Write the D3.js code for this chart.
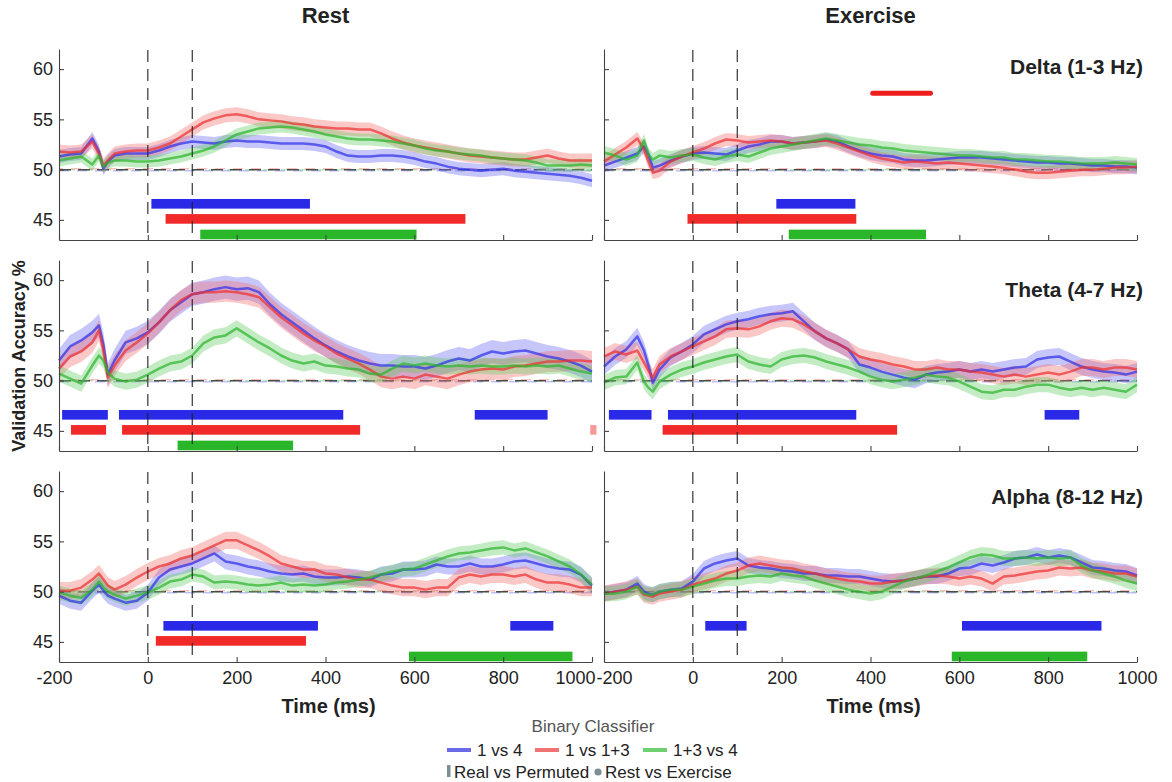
<!DOCTYPE html>
<html>
<head>
<meta charset="utf-8">
<script src="https://cdn.jsdelivr.net/npm/d3@7"></script>
<style>
body{margin:0;background:#fff}
text{font-family:"Liberation Sans",Arial,Helvetica,sans-serif}
</style>
</head>
<body>
<div id="graph"></div>
<script>
"use strict"

// time axis of every curve (ms)
var times=[-200,-175,-150,-125,-110,-100,-90,-75,-50,-25,0,25,50,75,100,125,150,175,200,225,250,275,300,325,350,375,400,425,450,475,500,525,550,575,600,625,650,675,700,725,750,775,800,825,850,875,900,925,950,975,1000]

var conditions=['Rest','Exercise']
var bands=['Delta (1-3 Hz)','Theta (4-7 Hz)','Alpha (8-12 Hz)']
var classifiers=['1 vs 4','1 vs 1+3','1+3 vs 4']
var markerLegend=['Real vs Permuted','Rest vs Exercise']
var yTicks=[45,50,55,60]
var xTicks=[-200,0,200,400,600,800,1000]
var stimMarks=[0,100]
var chance=50

// validation accuracy %, one array per classifier and panel
var deltaRest1v4=[51.3,51.5,51.6,53.1,51.8,50.1,50.8,51.4,51.6,51.6,51.6,51.9,52.3,52.6,52.8,52.7,52.6,52.8,52.9,52.8,52.8,52.7,52.6,52.6,52.6,52.5,52.3,51.8,51.4,51.3,51.3,51.4,51.4,51.3,51.1,50.8,50.6,50.3,50.1,50.0,49.9,50.0,50.1,49.9,49.8,49.7,49.6,49.5,49.4,49.2,48.9]
var deltaRest1v13=[51.8,51.7,51.8,52.8,51.6,50.4,50.9,51.6,51.8,51.9,51.9,52.2,52.6,53.3,54.0,54.7,55.1,55.4,55.5,55.3,55.0,54.9,54.8,54.6,54.5,54.3,54.2,54.1,54.1,54.0,54.0,53.6,53.1,52.7,52.4,52.2,52.0,51.8,51.6,51.4,51.3,51.2,51.1,51.0,51.0,51.2,51.4,51.1,50.9,50.9,50.9]
var deltaRest13v4=[50.9,51.1,51.3,50.5,51.4,50.3,50.7,50.9,50.9,50.8,50.8,50.9,51.1,51.3,51.6,51.9,52.3,52.9,53.5,53.8,54.1,54.2,54.3,54.2,54.0,53.8,53.5,53.3,53.1,53.0,53.0,52.9,52.8,52.6,52.4,52.1,51.9,51.8,51.6,51.5,51.4,51.2,51.1,51.0,50.9,50.7,50.4,50.4,50.4,50.5,50.4]
var deltaEx1v4=[50.4,50.8,51.2,51.6,52.3,51.5,50.2,50.4,50.9,51.3,51.6,51.7,51.6,51.5,51.9,52.3,52.5,52.8,52.8,52.6,52.7,52.8,53.0,52.8,52.3,51.9,51.6,51.4,51.3,51.0,50.9,50.9,51.0,51.1,51.2,51.2,51.2,51.1,51.0,50.9,50.8,50.7,50.7,50.6,50.6,50.5,50.4,50.4,50.3,50.3,50.2]
var deltaEx1v13=[50.8,51.5,52.2,53.1,52.0,50.8,49.7,49.9,50.8,51.3,51.7,52.1,52.6,53.0,52.9,52.7,52.8,52.9,52.8,52.6,52.7,52.8,52.9,52.6,52.2,51.8,51.4,51.1,50.9,50.7,50.8,50.7,50.6,50.7,50.6,50.5,50.4,50.3,50.2,50.0,49.8,49.7,49.7,49.8,49.9,50.0,50.0,50.1,50.2,50.2,50.3]
var deltaEx13v4=[51.7,51.4,51.0,51.4,52.9,51.5,51.0,51.4,51.2,51.4,51.5,51.2,51.0,51.3,51.5,51.3,51.7,52.1,52.3,52.5,52.7,52.9,53.1,52.9,52.7,52.5,52.4,52.2,52.1,51.9,51.8,51.7,51.6,51.5,51.4,51.4,51.3,51.2,51.2,51.0,51.0,50.9,50.8,50.8,50.7,50.6,50.6,50.6,50.7,50.6,50.5]
var thetaRest1v4=[52.0,53.4,54.0,54.8,55.5,53.6,50.6,52.0,53.8,54.2,54.8,55.8,57.0,57.8,58.6,58.8,59.1,59.3,59.1,59.2,58.8,57.6,56.6,55.8,55.0,54.2,53.5,52.9,52.4,52.0,51.7,51.5,51.5,51.4,51.4,51.2,51.5,51.9,52.2,52.0,52.5,52.9,52.7,52.9,53.0,52.7,52.4,52.2,51.9,51.5,50.9]
var thetaRest1v13=[51.2,52.4,52.9,53.8,55.0,53.0,50.3,51.5,53.0,53.8,54.7,55.8,57.0,58.0,58.6,58.8,58.8,58.9,58.8,58.6,58.3,57.3,56.3,55.5,54.7,54.0,53.4,52.7,52.2,51.7,51.1,50.4,50.2,50.4,50.2,50.6,50.4,50.2,50.6,50.9,51.1,51.2,51.1,51.4,51.5,51.7,51.9,51.9,52.0,52.0,51.9]
var thetaRest13v4=[50.7,50.2,49.7,51.5,52.5,52.0,50.8,50.2,49.9,50.1,50.6,51.2,51.7,51.9,52.5,53.7,54.3,54.5,55.2,54.5,53.8,53.2,52.5,52.0,51.7,51.9,51.5,51.4,51.2,51.1,50.7,50.6,51.2,51.7,51.5,51.7,51.5,51.4,51.5,51.4,51.5,51.4,51.4,51.5,51.4,51.5,51.4,51.5,51.2,50.9,50.7]
var thetaEx1v4=[51.4,52.4,53.1,54.4,53.0,51.5,49.8,51.1,52.3,52.9,53.6,54.6,55.1,55.6,55.9,56.1,56.4,56.6,56.7,56.9,55.9,54.9,54.2,53.7,53.1,51.6,51.3,50.9,50.6,50.3,50.1,50.6,50.8,50.9,51.1,50.9,51.1,50.9,51.1,51.3,51.4,52.1,52.3,52.4,51.9,51.4,51.1,50.9,50.8,50.6,50.9]
var thetaEx1v13=[52.4,52.9,52.6,53.0,51.8,51.0,50.3,51.6,52.4,52.9,53.4,53.9,54.4,55.1,55.2,55.1,55.4,55.9,56.2,56.1,55.6,54.9,54.2,53.7,53.1,52.4,52.1,51.9,51.6,51.4,51.1,51.1,51.3,51.1,51.1,50.9,50.8,50.6,50.4,50.6,50.4,50.6,50.8,50.6,50.9,51.3,51.3,51.1,51.3,51.3,51.1]
var thetaEx13v4=[49.8,50.3,50.4,51.8,49.9,49.3,48.9,49.9,50.6,51.1,51.4,51.8,52.1,52.4,52.6,51.9,51.6,51.4,52.1,52.4,52.5,52.3,51.9,51.6,51.3,50.9,50.4,50.1,49.9,50.1,50.3,50.6,50.4,50.3,49.9,49.4,48.9,48.8,49.1,49.1,49.4,49.6,49.6,49.3,49.1,49.3,49.1,49.3,49.1,48.9,49.6]
var alphaRest1v4=[49.6,49.1,48.9,50.1,50.7,50.1,49.6,49.3,48.9,49.1,49.9,51.4,52.2,52.5,52.8,53.3,53.8,53.0,52.8,52.5,52.3,52.0,51.8,51.7,51.8,51.5,51.4,51.4,51.5,51.4,51.2,51.7,51.8,52.2,52.2,52.3,52.7,52.5,52.5,52.8,52.5,52.5,52.7,53.0,53.1,52.8,52.5,52.3,52.2,51.7,50.6]
var alphaRest1v13=[50.1,50.1,50.4,51.2,51.8,51.2,50.6,50.2,50.7,51.4,52.0,52.5,52.8,53.3,53.6,54.1,54.6,55.1,55.1,54.6,54.1,53.5,52.8,52.5,52.2,52.2,51.8,51.7,51.4,51.2,51.2,50.9,50.6,50.4,50.4,50.2,50.4,50.4,51.4,51.7,51.5,51.7,51.7,51.5,51.7,51.2,50.9,50.9,50.7,50.4,50.4]
var alphaRest13v4=[49.9,49.6,49.4,50.2,51.0,50.4,50.0,49.7,49.3,49.6,49.9,50.4,51.0,51.2,51.7,51.5,50.9,51.0,50.9,50.7,50.6,50.7,50.9,50.6,50.7,50.6,50.7,50.9,51.0,51.2,51.4,51.7,52.0,52.2,52.3,52.7,53.1,53.5,53.8,53.9,54.1,54.3,54.4,54.1,54.3,53.9,53.5,53.0,52.5,51.7,50.7]
var alphaEx1v4=[49.8,50.0,50.2,50.8,50.0,49.8,49.7,50.0,50.2,50.3,51.0,52.3,52.8,53.1,53.3,52.6,52.4,52.3,52.1,52.0,51.8,51.8,51.6,51.6,51.5,51.5,51.3,51.1,51.0,51.1,51.3,51.5,51.5,51.8,52.3,52.4,52.8,52.6,52.9,53.3,53.4,53.7,53.4,53.6,53.4,52.9,52.4,52.3,52.1,52.0,51.6]
var alphaEx1v13=[49.8,50.0,50.2,50.5,49.7,49.6,49.5,49.8,50.0,50.2,50.7,51.0,51.3,51.8,52.1,52.6,52.8,52.6,52.4,52.3,52.0,51.8,51.5,51.3,51.1,51.0,50.8,50.8,51.0,51.1,51.3,51.5,51.6,51.5,51.3,51.5,51.3,50.8,51.5,51.6,51.8,52.0,52.1,52.4,52.3,52.4,52.1,52.0,51.8,51.8,51.5]
var alphaEx13v4=[49.8,49.8,50.0,50.5,49.8,49.7,49.7,50.0,50.2,50.2,50.5,50.8,51.1,51.3,51.3,51.5,51.6,51.5,51.8,51.6,51.5,51.1,50.8,50.5,50.2,50.0,49.8,50.0,50.5,51.0,51.3,51.6,52.0,52.4,52.9,53.4,53.7,53.6,53.3,53.3,53.4,53.3,53.4,53.3,53.4,52.6,52.1,51.8,51.5,51.1,50.8]

// standard error of each curve (1 vs 4, 1 vs 1+3, 1+3 vs 4)
var deltaRestSem=[0.65,0.7,0.6]
var deltaExSem=[0.65,0.65,0.65]
var thetaRestSem=[1.15,1.05,0.8]
var thetaExSem=[0.85,0.85,0.75]
var alphaRestSem=[0.8,0.85,0.7]
var alphaExSem=[0.75,0.8,0.75]

// real vs permuted significant windows (ms) per classifier
var deltaRestSig=[[[8,365]],[[40,715]],[[118,605]]]
var deltaExSig=[[[188,366]],[[-12,368]],[[216,525]]]
var thetaRestSig=[[[-193,-90],[-65,440],[736,900]],[[-173,-94],[-58,478],[996,1010]],[[67,327]]]
var thetaExSig=[[[-189,-93],[-56,368],[792,870]],[[-68,460]],[]]
var alphaRestSig=[[[35,383],[816,913]],[[18,356]],[[588,956]]]
var alphaExSig=[[[28,121],[606,920]],[],[[583,888]]]

// rest vs exercise significant windows (ms) per classifier, drawn in the exercise panels
var deltaRestEx=[[],[[405,535]],[]]
var thetaRestEx=[[],[],[]]
var alphaRestEx=[[],[],[]]

var panels=[
  {row:0,col:0,curves:[deltaRest1v4,deltaRest1v13,deltaRest13v4],sem:deltaRestSem,sig:deltaRestSig,rx:null},
  {row:0,col:1,curves:[deltaEx1v4,deltaEx1v13,deltaEx13v4],sem:deltaExSem,sig:deltaExSig,rx:deltaRestEx},
  {row:1,col:0,curves:[thetaRest1v4,thetaRest1v13,thetaRest13v4],sem:thetaRestSem,sig:thetaRestSig,rx:null},
  {row:1,col:1,curves:[thetaEx1v4,thetaEx1v13,thetaEx13v4],sem:thetaExSem,sig:thetaExSig,rx:thetaRestEx},
  {row:2,col:0,curves:[alphaRest1v4,alphaRest1v13,alphaRest13v4],sem:alphaRestSem,sig:alphaRestSig,rx:null},
  {row:2,col:1,curves:[alphaEx1v4,alphaEx1v13,alphaEx13v4],sem:alphaExSem,sig:alphaExSig,rx:alphaRestEx}
]

var colLeft=[59,604],colWidth=533
var rowTop=[49,260,471],rowHeight=191
var lineColors=['rgb(48,48,232)','rgb(236,48,48)','rgb(44,180,44)']
var bandColors=['rgb(105,105,242)','rgb(244,110,110)','rgb(100,206,100)']
var barColors=['#1d1de6','#f01d1d','#1db21d']
var legendColors=['#6a6ae6','#f07373','#6fd06f']
var sigLevel=[46.6,45.1,43.55]
var axisColor='#444'

function styleAxis(sel){
  sel.attr('font-size',18).attr('font-family','"Liberation Sans",Arial,sans-serif')
  sel.select('.domain').attr('stroke',axisColor).attr('stroke-width',1.1)
  sel.selectAll('.tick line').attr('stroke',axisColor).attr('stroke-width',1.1)
  sel.selectAll('.tick text').attr('fill','#222')
}

// one band x condition panel
function drawPanel(svg,p){
  var x0=colLeft[p.col],top=rowTop[p.row]
  var x=d3.scaleLinear().domain([-200,1000]).range([x0,x0+colWidth])
  var y=d3.scaleLinear().domain([43,62]).range([top+rowHeight,top])
  var g=svg.append('g')

  // chance level of the permuted classifiers
  var offs=[1,-1,0]
  for(var i=0;i<3;i++)
    g.append('line').attr('x1',x(-200)).attr('x2',x(1000)).attr('y1',y(chance)+offs[i]).attr('y2',y(chance)+offs[i])
      .attr('stroke',lineColors[i]).attr('stroke-opacity',.3).attr('stroke-width',1.5).attr('stroke-dasharray','10,8').attr('stroke-dashoffset',i*6)
  g.append('line').attr('x1',x(-200)).attr('x2',x(1000)).attr('y1',y(chance)).attr('y2',y(chance))
    .attr('stroke','#333').attr('stroke-opacity',.85).attr('stroke-width',1.5).attr('stroke-dasharray','12,7')

  // shaded error bands then mean lines
  for(i=0;i<3;i++){
    var s=p.sem[i]
    var area=d3.area().x(function(d,k){return x(times[k])}).y0(function(d){return y(d-s)}).y1(function(d){return y(d+s)})
    g.append('path').attr('d',area(p.curves[i])).attr('fill',bandColors[i]).attr('fill-opacity',.38).attr('stroke','none')
  }
  var line=d3.line().x(function(d,k){return x(times[k])}).y(function(d){return y(d)})
  for(i=0;i<3;i++)
    g.append('path').attr('d',line(p.curves[i])).attr('fill','none').attr('stroke',lineColors[i]).attr('stroke-opacity',.72).attr('stroke-width',2.5).attr('stroke-linejoin','round')

  // real vs permuted significance bars
  for(i=0;i<3;i++){
    p.sig[i].forEach(function(w){
      g.append('rect').attr('x',x(w[0])).attr('width',x(w[1])-x(w[0]))
        .attr('y',y(sigLevel[i]+.48)).attr('height',y(sigLevel[i]-.48)-y(sigLevel[i]+.48))
        .attr('fill',barColors[i]).attr('fill-opacity',w[1]>1000?.45:.95)
    })
  }
  // rest vs exercise markers
  if(p.rx){
    for(i=0;i<3;i++)
      p.rx[i].forEach(function(w){
        g.append('line').attr('x1',x(w[0])).attr('x2',x(w[1])).attr('y1',y(57.6)).attr('y2',y(57.6))
          .attr('stroke',barColors[i]).attr('stroke-width',5).attr('stroke-linecap','round')
      })
  }

  // stimulus onset markers
  stimMarks.forEach(function(t){
    g.append('line').attr('x1',x(t)).attr('x2',x(t)).attr('y1',top+1).attr('y2',top+rowHeight)
      .attr('stroke','#222').attr('stroke-width',1.1).attr('stroke-dasharray','12,7')
  })

  var yAxis=d3.axisLeft(y).tickValues(yTicks).tickSizeInner(-5).tickSizeOuter(0).tickPadding(6)
  if(p.col==1) yAxis.tickFormat(function(){return ''})
  g.append('g').attr('transform','translate('+x0+',0)').call(yAxis).call(styleAxis)

  var xAxis=d3.axisBottom(x).tickValues(xTicks).tickSizeInner(-5).tickSizeOuter(0).tickPadding(9)
  xAxis.tickFormat(p.row==2?function(d){return String(d)}:function(){return ''})
  var xg=g.append('g').attr('transform','translate(0,'+(top+rowHeight)+')').call(xAxis).call(styleAxis)
  // keep the end labels of neighbouring panels apart
  xg.selectAll('.tick text').each(function(d){
    var t=d3.select(this)
    if(p.col==0&&d==1000) t.attr('text-anchor','end').attr('x',3)
    if(p.col==0&&d==-200) t.attr('x',-5)
    if(p.col==1&&d==-200) t.attr('text-anchor','start').attr('x',-8)
  })

  if(p.col==1){
    var labelY=[74,297,504]
    g.append('text').attr('x',1143).attr('y',labelY[p.row]).attr('text-anchor','end')
      .attr('font-size',21).attr('font-weight','bold').attr('fill','#222').text(bands[p.row])
  }
  if(p.row==0)
    g.append('text').attr('x',x0+colWidth/2).attr('y',23).attr('text-anchor','middle')
      .attr('font-size',22).attr('font-weight','bold').attr('fill','#222').text(conditions[p.col])
  if(p.row==2)
    g.append('text').attr('x',x0+colWidth/2+3).attr('y',713).attr('text-anchor','middle')
      .attr('font-size',20).attr('font-weight','bold').attr('fill','#222').text('Time (ms)')
}

function drawLegend(svg){
  var g=svg.append('g')
  g.append('text').attr('x',593).attr('y',732).attr('text-anchor','middle').attr('font-size',17).attr('fill','#555').text('Binary Classifier')
  var lx=[447,535,643]
  for(var i=0;i<3;i++){
    g.append('line').attr('x1',lx[i]).attr('x2',lx[i]+24).attr('y1',750).attr('y2',750).attr('stroke',legendColors[i]).attr('stroke-width',4)
    g.append('text').attr('x',lx[i]+30).attr('y',756).attr('font-size',17).attr('fill','#222').text(classifiers[i])
  }
  g.append('rect').attr('x',447).attr('y',765).attr('width',3.5).attr('height',12).attr('fill','#7d8d94')
  g.append('text').attr('x',454).attr('y',778).attr('font-size',17).attr('fill','#222').text(markerLegend[0])
  g.append('circle').attr('cx',598).attr('cy',772).attr('r',3.6).attr('fill','#7d8d94')
  g.append('text').attr('x',605).attr('y',778).attr('font-size',17).attr('fill','#222').text(markerLegend[1])
}

function refresh(){
  var svg=d3.select('#graph').append('svg').attr('width',1172).attr('height',782)
  svg.append('rect').attr('width',1172).attr('height',782).attr('fill','#fff')
  panels.forEach(function(p){drawPanel(svg,p)})
  svg.append('text').attr('transform','translate(25,356)rotate(-90)').attr('text-anchor','middle')
    .attr('font-size',18).attr('font-weight','bold').attr('fill','#222').text('Validation Accuracy %')
  drawLegend(svg)
}

refresh()
</script>
</body>
</html>
